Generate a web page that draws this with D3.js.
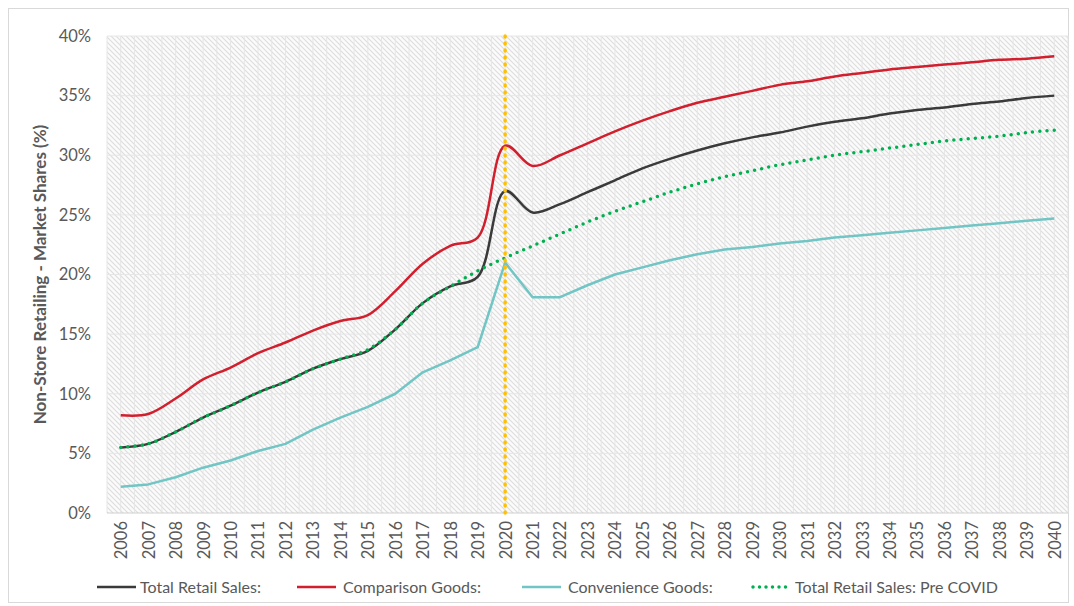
<!DOCTYPE html>
<html>
<head>
<meta charset="utf-8">
<script src="https://cdn.jsdelivr.net/npm/d3@7"></script>
<style>
  body { margin: 0; background: #fff; }
  svg { display: block; font-family: Lato, "Open Sans", sans-serif; }
</style>
</head>
<body>
<div id="chart"></div>
<script>
// Data (market share, %)
var years = d3.range(2006, 2041).map(String);

var totalRetail = [5.5, 5.8, 6.8, 8.0, 9.0, 10.1, 11.0, 12.1, 12.9, 13.6, 15.4, 17.6, 19.0, 19.8,
  27.0, 25.2, 25.9, 26.9, 27.9, 28.9, 29.7, 30.4, 31.0, 31.5, 31.9, 32.4, 32.8, 33.1, 33.5, 33.8,
  34.0, 34.3, 34.5, 34.8, 35.0];

var comparison = [8.2, 8.3, 9.6, 11.2, 12.2, 13.4, 14.3, 15.3, 16.1, 16.6, 18.6, 20.9, 22.4, 23.1,
  30.8, 29.1, 30.0, 31.0, 32.0, 32.9, 33.7, 34.4, 34.9, 35.4, 35.9, 36.2, 36.6, 36.9, 37.2, 37.4,
  37.6, 37.8, 38.0, 38.1, 38.3];

var convenience = [2.2, 2.4, 3.0, 3.8, 4.4, 5.2, 5.8, 7.0, 8.0, 8.9, 10.0, 11.8, 12.8, 13.9,
  21.0, 18.1, 18.1, 19.1, 20.0, 20.6, 21.2, 21.7, 22.1, 22.3, 22.6, 22.8, 23.1, 23.3, 23.5, 23.7,
  23.9, 24.1, 24.3, 24.5, 24.7];

var preCovid = [5.5, 5.8, 6.8, 8.0, 9.0, 10.1, 11.0, 12.1, 12.9, 13.7, 15.4, 17.6, 19.0, 20.3,
  21.4, 22.4, 23.4, 24.4, 25.3, 26.1, 26.9, 27.6, 28.2, 28.7, 29.2, 29.6, 30.0, 30.3, 30.6, 30.9,
  31.2, 31.4, 31.6, 31.9, 32.1];

var yTicks = [0, 5, 10, 15, 20, 25, 30, 35, 40];
var covidYear = "2020";

var seriesNames = ["Total Retail Sales:", "Comparison Goods:", "Convenience Goods:", "Total Retail Sales: Pre COVID"];

(function() {
    var W = 1074, H = 606;
    var plot = {left: 107, right: 1068, top: 36, bottom: 513};

    var svg = d3.select("#chart").append("svg")
        .attr("width", W)
        .attr("height", H);

    // Outer chart border
    svg.append("rect")
        .attr("x", 8.5).attr("y", 8.5)
        .attr("width", W - 14).attr("height", H - 12)
        .attr("fill", "#fff")
        .attr("stroke", "#d9d9d9");

    // Scales
    var x = d3.scalePoint().domain(years).range([plot.left, plot.right]).padding(0.5);
    var y = d3.scaleLinear().domain([0, 40]).range([plot.bottom, plot.top]);

    // Hatched plot area
    var defs = svg.append("defs");
    var pat = defs.append("pattern")
        .attr("id", "hatch")
        .attr("patternUnits", "userSpaceOnUse")
        .attr("width", 5).attr("height", 5);
    pat.append("rect").attr("width", 5).attr("height", 5).attr("fill", "#fbfbfb");
    pat.append("path")
        .attr("d", "M-1,-1 L6,6 M-1,4 L1,6 M4,-1 L6,1")
        .attr("stroke", "#dddddd")
        .attr("stroke-width", 1.1);

    svg.append("rect")
        .attr("x", plot.left).attr("y", plot.top)
        .attr("width", plot.right - plot.left)
        .attr("height", plot.bottom - plot.top)
        .attr("fill", "url(#hatch)");

    // Vertical gridlines (at category centres and boundaries)
    var step = x.step();
    var vLines = [];
    years.forEach(function(yr) {
        vLines.push(x(yr) - step / 2);
        vLines.push(x(yr));
    });
    vLines.push(plot.right);
    svg.append("g").selectAll("line")
        .data(vLines)
        .join("line")
        .attr("x1", function(d) { return d; })
        .attr("x2", function(d) { return d; })
        .attr("y1", plot.top).attr("y2", plot.bottom)
        .attr("stroke", "#e6e6e6")
        .attr("stroke-width", 1);

    // Horizontal gridlines
    svg.append("g").selectAll("line")
        .data(yTicks)
        .join("line")
        .attr("x1", plot.left).attr("x2", plot.right)
        .attr("y1", function(d) { return y(d); })
        .attr("y2", function(d) { return y(d); })
        .attr("stroke", function(d) { return d === 0 ? "#d0d0d0" : "#e6e6e6"; })
        .attr("stroke-width", 1);

    // Y axis
    var yAxis = svg.append("g")
        .attr("transform", "translate(" + plot.left + ",0)")
        .call(d3.axisLeft(y).tickValues(yTicks).tickSize(0).tickPadding(16)
            .tickFormat(function(d) { return d + "%"; }));
    yAxis.select(".domain").remove();
    yAxis.selectAll("text")
        .attr("font-size", "16.5px")
        .attr("font-family", "Lato, sans-serif")
        .attr("fill", "#595959");

    // X axis with vertical labels
    var xAxis = svg.append("g")
        .attr("transform", "translate(0," + plot.bottom + ")")
        .call(d3.axisBottom(x).tickSize(0));
    xAxis.select(".domain").remove();
    xAxis.selectAll("text")
        .attr("transform", "rotate(-90)")
        .attr("text-anchor", "end")
        .attr("x", -8)
        .attr("y", 0)
        .attr("dy", "0.36em")
        .attr("font-size", "16.5px")
        .attr("font-family", "Lato, sans-serif")
        .attr("fill", "#595959");

    // Y axis title
    svg.append("text")
        .attr("transform", "translate(46," + ((plot.top + plot.bottom) / 2) + ") rotate(-90)")
        .attr("text-anchor", "middle")
        .attr("font-size", "17px")
        .attr("font-weight", "bold")
        .attr("fill", "#595959")
        .text("Non-Store Retailing - Market Shares (%)");

    // Lines
    var smooth = d3.line()
        .x(function(d, i) { return x(years[i]); })
        .y(function(d) { return y(d); })
        .curve(d3.curveCatmullRom.alpha(0.5));
    var straight = d3.line()
        .x(function(d, i) { return x(years[i]); })
        .y(function(d) { return y(d); });

    svg.append("path")
        .datum(convenience)
        .attr("d", straight)
        .attr("fill", "none")
        .attr("stroke", "#72c5c5")
        .attr("stroke-width", 2.5)
        .attr("stroke-linejoin", "round");

    svg.append("path")
        .datum(comparison)
        .attr("d", smooth)
        .attr("fill", "none")
        .attr("stroke", "#d11f2e")
        .attr("stroke-width", 2.5);

    svg.append("path")
        .datum(totalRetail)
        .attr("d", smooth)
        .attr("fill", "none")
        .attr("stroke", "#3a3a3a")
        .attr("stroke-width", 2.5);

    svg.append("path")
        .datum(preCovid)
        .attr("d", smooth)
        .attr("fill", "none")
        .attr("stroke", "#00b050")
        .attr("stroke-width", 3.5)
        .attr("stroke-linecap", "round")
        .attr("stroke-dasharray", "0 7.2");

    // COVID marker line
    svg.append("line")
        .attr("x1", x(covidYear)).attr("x2", x(covidYear))
        .attr("y1", plot.top).attr("y2", plot.bottom)
        .attr("stroke", "#ffc000")
        .attr("stroke-width", 3.5)
        .attr("stroke-linecap", "round")
        .attr("stroke-dasharray", "1 6");

    // Legend
    var legendItems = [
        {name: seriesNames[0], color: "#3a3a3a", x: 97, tx: 140, dash: null},
        {name: seriesNames[1], color: "#d11f2e", x: 297, tx: 343, dash: null},
        {name: seriesNames[2], color: "#72c5c5", x: 522, tx: 568, dash: null},
        {name: seriesNames[3], color: "#00b050", x: 753, tx: 795, dash: "0 6.5"}
    ];
    var legend = svg.append("g").attr("transform", "translate(0,587)");
    legendItems.forEach(function(item) {
        legend.append("line")
            .attr("x1", item.x).attr("x2", item.x + 39)
            .attr("y1", 0).attr("y2", 0)
            .attr("stroke", item.color)
            .attr("stroke-width", item.dash ? 3.5 : 2.5)
            .attr("stroke-linecap", item.dash ? "round" : "butt")
            .attr("stroke-dasharray", item.dash);
        legend.append("text")
            .attr("x", item.tx)
            .attr("y", 0)
            .attr("dy", "0.35em")
            .attr("font-size", "16px")
            .attr("fill", "#595959")
            .text(item.name);
    });
})();
</script>
</body>
</html>
